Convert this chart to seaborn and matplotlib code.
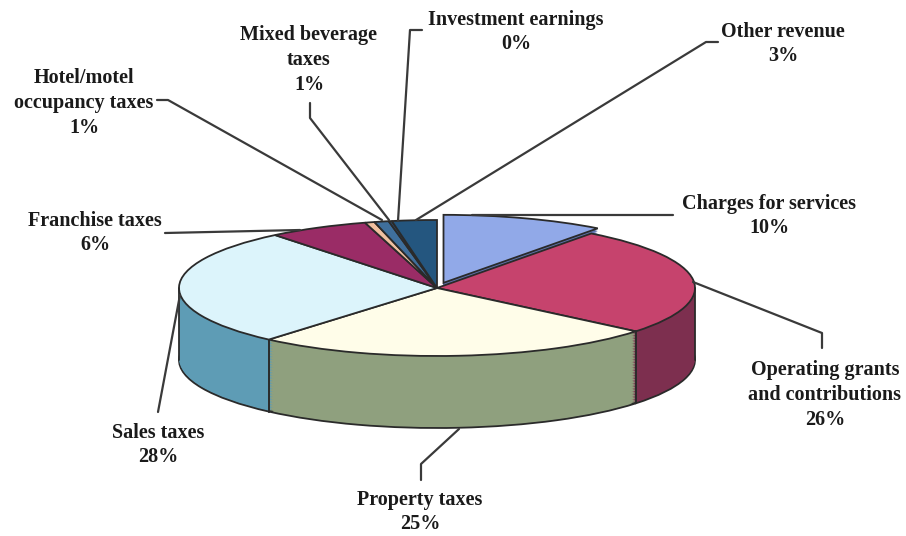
import numpy as np
import matplotlib
matplotlib.use("Agg")
import matplotlib.pyplot as plt
import seaborn as sns

# revenue shares (percent), clockwise from 12 o'clock
categories = ["Charges for services", "Operating grants\nand contributions", "Property taxes",
              "Sales taxes", "Franchise taxes", "Hotel/motel\noccupancy taxes",
              "Mixed beverage\ntaxes", "Investment earnings", "Other revenue"]
shares = [10.2, 25.8, 25.3, 27.9, 6.3, 0.6, 0.9, 0.2, 2.8]
pct_labels = ["10%", "26%", "25%", "28%", "6%", "1%", "1%", "0%", "3%"]

top_colors = ["#91a9e8", "#c6436d", "#fffde9", "#dcf4fb", "#9a2c66",
              "#f1c0a0", "#3f6f9c", "#2d4d6b", "#24567f"]
side_colors = ["#5f75b0", "#7d2f4f", "#8fa07e", "#5e9cb5", "#6a1e46",
               "#c89478", "#2d5379", "#1f3950", "#1b4163"]
explode = [0.08, 0, 0, 0, 0, 0, 0, 0, 0]

# picture layout in pixels
W, H = 906, 536
CX, CY = 437, 288      # centre of the top face
RX, RY = 258, 68       # ellipse half axes
DEPTH = 72             # thickness of the pie

label_pos = [(769, 216), (825, 395), (420, 512), (158, 445), (95, 233),
             (84, 103), (309, 60), (516, 32), (783, 44)]
leaders = [
    [(673, 215), (472, 215)],
    [(693, 282), (822, 333), (822, 348)],
    [(459, 429), (421, 464), (421, 480)],
    [(180, 295), (158, 412)],
    [(165, 233), (300, 230)],
    [(157, 100), (168, 100), (382, 220)],
    [(310, 103), (310, 118), (389, 220)],
    [(422, 30), (410, 30), (398, 221)],
    [(718, 42), (706, 42), (416, 220)],
]

EDGE = "#2a2a2a"

sns.set_theme(style="white")
plt.rcParams["font.family"] = ["Liberation Serif", "DejaVu Serif"]

fig = plt.figure(figsize=(9.06, 5.36), dpi=100)
ax = fig.add_axes([0, 0, 1, 1])

depth = DEPTH / RY
n_layers = 45
for k, z in enumerate(np.linspace(-depth, 0, n_layers, endpoint=False)):
    if k == 0:
        wp = dict(edgecolor=EDGE, linewidth=1.3)
    else:
        wp = dict(linewidth=0)
    ax.pie(shares, startangle=90, counterclock=False, colors=side_colors,
           explode=explode, center=(0, z), wedgeprops=wp)

wedges, _ = ax.pie(shares, startangle=90, counterclock=False, colors=top_colors,
                   explode=explode, wedgeprops=dict(edgecolor=EDGE, linewidth=1.3))

# vertical edges on the visible front wall
for w in wedges:
    cx, cy = w.center
    for t in (w.theta1, w.theta2):
        s, c = np.sin(np.radians(t)), np.cos(np.radians(t))
        if s < -0.05:
            ax.plot([cx + c, cx + c], [cy + s, cy + s - depth], color=EDGE, lw=1.2)
for c in (-1, 1):
    ax.plot([c, c], [0, -depth], color=EDGE, lw=1.3)

ax.set_aspect("auto")
ax.set_xlim(-CX / RX, (W - CX) / RX)
ax.set_ylim((CY - H) / RY, CY / RY)
ax.axis("off")

for name, pct, (px, py) in zip(categories, pct_labels, label_pos):
    ax.text(px / W, 1 - py / H, f"{name}\n{pct}", transform=ax.transAxes,
            ha="center", va="center", fontsize=14.5, fontweight="bold",
            color="#1a1a1a", linespacing=1.33)

for line in leaders:
    xs = [p[0] / W for p in line]
    ys = [1 - p[1] / H for p in line]
    ax.plot(xs, ys, transform=ax.transAxes, color="#3a3a3a", lw=1.6)

fig.savefig("out.png", dpi=100, facecolor="white")
